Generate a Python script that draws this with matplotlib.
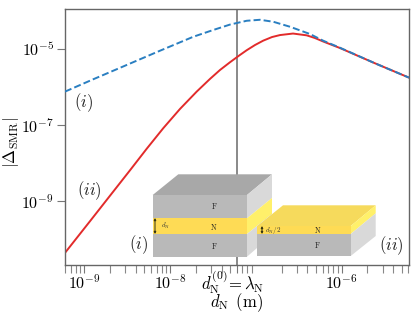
import matplotlib as mpl
mpl.use('Agg')
import matplotlib.pyplot as plt
from matplotlib.patches import Polygon

plt.rcParams['mathtext.fontset'] = 'cm'
plt.rcParams['font.family'] = ['cmr10', 'DejaVu Serif']
plt.rcParams['axes.formatter.use_mathtext'] = True

# values, as log10
log_d_blue = [-9.224, -8.894, -8.505, -8.117, -7.728, -7.499, -7.301, -7.106, -6.951, -6.796,
              -6.601, -6.368, -6.213, -6.019, -5.611, -5.214]
log_blue = [-6.131, -5.806, -5.432, -5.058, -4.691, -4.516, -4.372, -4.272, -4.246, -4.298,
            -4.429, -4.62, -4.796, -4.979, -5.387, -5.764]
log_d_red = [-9.224, -8.932, -8.699, -8.466, -8.272, -8.078, -7.883, -7.689, -7.534, -7.417, -7.301,
             -7.192, -7.106, -7.009, -6.913, -6.811, -6.718, -6.566, -6.407, -6.310, -6.213, -6.019,
             -5.611, -5.214]
log_red = [-10.361, -9.529, -8.861, -8.194, -7.631, -7.089, -6.584, -6.131, -5.798, -5.563, -5.361,
           -5.181, -5.045, -4.908, -4.793, -4.699, -4.647, -4.607, -4.654, -4.725, -4.817, -4.987,
           -5.387, -5.764]

d_blue = [10 ** v for v in log_d_blue]
blue = [10 ** v for v in log_blue]
d_red = [10 ** v for v in log_d_red]
red = [10 ** v for v in log_red]
d_zero = 6.0e-8

fig = plt.figure(figsize=(4.15, 3.24), dpi=100)
ax = fig.add_axes([65 / 415, 1 - 265 / 324, 344 / 415, 256.5 / 324])

ax.plot(d_red, red, color='#e22b2b', lw=1.4, zorder=2)
ax.plot(d_blue, blue, color='#2a7fc1', lw=1.4, ls=(0, (3.6, 1.6)), zorder=3)
ax.axvline(d_zero, color='#808080', lw=1.3, zorder=1)

ax.set_xscale('log')
ax.set_yscale('log')
ax.set_xlim(10 ** -9.224, 10 ** -5.214)
ax.set_ylim(10 ** -10.68, 10 ** -3.95)

ax.set_yticks([1e-9, 1e-7, 1e-5])
ax.set_yticklabels([r'$10^{\mathrm{-}9}$', r'$10^{\mathrm{-}7}$', r'$10^{\mathrm{-}5}$'])
ax.yaxis.set_minor_locator(mpl.ticker.NullLocator())
ax.set_xticks([1e-9, 1e-8, d_zero, 1e-6])
ax.set_xticklabels([r'$10^{-9}$', r'$10^{-8}$', '', r'$10^{-6}$'])
ax.tick_params(axis='both', which='major', length=6, width=0.8, color='#777777', labelsize=11.5, pad=2)
ax.tick_params(axis='x', which='major', pad=0)
ax.tick_params(axis='x', which='minor', length=6, width=0.8, color='#888888', labelbottom=False)
for s in ax.spines.values():
    s.set_color('#666666')
    s.set_linewidth(1.0)

ax.annotate(r'$d_{\mathrm{N}}^{(0)}\!=\lambda_{\mathrm{N}}$', xy=(d_zero, 0), xycoords=('data', 'axes fraction'),
            xytext=(-3, -12), textcoords='offset points', ha='center', va='center', fontsize=12)

ax.set_xlabel(r'$d_{\mathrm{N}}\ \,(\mathrm{m})$', fontsize=12)
ax.xaxis.set_label_coords(0.5, -0.104)
ax.set_ylabel(r'$|\bar{\Delta}_{\mathrm{SMR}}|$', fontsize=12)
ax.yaxis.set_label_coords(-0.124, 0.476)

# schematic of the two stacks, in picture pixels
sk = fig.add_axes([0, 0, 1, 1])
sk.set_xlim(0, 415)
sk.set_ylim(324, 0)
sk.axis('off')
sk.patch.set_alpha(0)

GREY_FRONT = '#b9b9b9'
GREY_TOP = '#a8a8a8'
GREY_SIDE = '#d9d9d9'
GOLD_FRONT = '#fedb55'
GOLD_TOP = '#f6da5c'
GOLD_SIDE = '#fff06a'


def face(pts, color):
    sk.add_patch(Polygon(pts, closed=True, facecolor=color, edgecolor='none', zorder=5))


# left stack
face([(152.7, 195), (178.3, 174.3), (272, 174.3), (247, 195)], GREY_TOP)
face([(247, 195), (272, 174.3), (272, 198), (247, 218.3)], GREY_SIDE)
face([(247, 218.3), (272, 198), (272, 214), (247, 234)], GOLD_SIDE)
face([(247, 234), (272, 214), (272, 235), (247, 256.7)], GREY_SIDE)
face([(152.7, 195), (247, 195), (247, 218.3), (152.7, 218.3)], GREY_FRONT)
face([(152.7, 218.3), (247, 218.3), (247, 234), (152.7, 234)], GOLD_FRONT)
face([(152.7, 234), (247, 234), (247, 256.7), (152.7, 256.7)], GREY_FRONT)

# right stack
face([(257.3, 226), (283, 205.3), (375.7, 205.3), (350.7, 226)], GOLD_TOP)
face([(350.7, 226), (375.7, 205.3), (375.7, 213.3), (350.7, 234)], GOLD_SIDE)
face([(350.7, 234), (375.7, 213.3), (375.7, 236), (350.7, 256)], GREY_SIDE)
face([(257.3, 226), (350.7, 226), (350.7, 234), (257.3, 234)], GOLD_FRONT)
face([(257.3, 234), (350.7, 234), (350.7, 256), (257.3, 256)], GREY_FRONT)

for x, y, t in [(214, 206, 'F'), (214, 227, 'N'), (214, 246, 'F'), (317.5, 230, 'N'), (317.5, 245.5, 'F')]:
    sk.text(x, y, rf'$\mathrm{{{t}}}$', fontsize=5.5, color='#222222', ha='center', va='center', zorder=6)
sk.text(161, 226, r'$d_{\mathrm{N}}$', fontsize=5, color='#333333', ha='left', va='center', zorder=6)
sk.text(265, 230, r'$d_{\mathrm{N}}/2$', fontsize=5, color='#333333', ha='left', va='center', zorder=6)
sk.annotate('', xy=(155, 218), xytext=(155, 234), zorder=6,
            arrowprops=dict(arrowstyle='<|-|>', color='#333311', lw=0.7, mutation_scale=3, shrinkA=0, shrinkB=0))
sk.annotate('', xy=(262, 226), xytext=(262, 234), zorder=6,
            arrowprops=dict(arrowstyle='<|-|>', color='#333311', lw=0.7, mutation_scale=3, shrinkA=0, shrinkB=0))

for x, y, t in [(84, 103, 'i'), (89, 191, 'ii'), (138.5, 245, 'i'), (391, 246, 'ii')]:
    sk.text(x, y, rf'$({t})$', fontsize=12, color='#222222', ha='center', va='center', zorder=6)

fig.savefig('out.png', dpi=100)
